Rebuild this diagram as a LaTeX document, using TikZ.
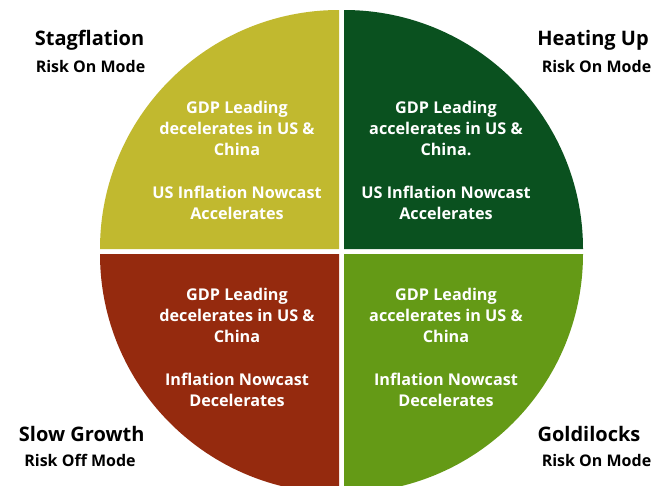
\documentclass[tikz,border=0pt]{standalone}
\usepackage{fontspec}
\setmainfont{Open Sans}
\usepackage{tikz}
\usetikzlibrary{positioning}

\definecolor{olive}{HTML}{C1B92F}
\definecolor{darkgreen}{HTML}{0A511F}
\definecolor{rust}{HTML}{952A0E}
\definecolor{leaf}{HTML}{649A16}

\begin{document}
\begin{tikzpicture}[
  x=1pt, y=-1pt,
  inner/.style={text=white, align=center, inner sep=0pt, font=\fontsize{16.2}{21}\selectfont\bfseries},
  title/.style={anchor=base, inner sep=0pt, font=\fontsize{20}{24}\selectfont\bfseries},
  mode/.style={anchor=base, inner sep=0pt, font=\fontsize{16}{19}\selectfont\bfseries}
]
  \clip (0,0) rectangle (653,485);
  \fill[white] (0,0) rectangle (653,485);

  % four quarters, split by a thin white cross
  \coordinate (tl) at (339,249);
  \coordinate (tr) at (344,249);
  \coordinate (bl) at (339,254);
  \coordinate (br) at (344,254);
  \fill[olive]     (tl) -- ++(-239,0) arc[start angle=180, end angle=270, radius=239] -- cycle;
  \fill[darkgreen] (tr) -- ++(0,-239) arc[start angle=270, end angle=360, radius=239] -- cycle;
  \fill[rust]      (bl) -- ++(0,239)  arc[start angle=90,  end angle=180, radius=239] -- cycle;
  \fill[leaf]      (br) -- ++(239,0)  arc[start angle=0,   end angle=90,  radius=239] -- cycle;

  \node[inner] (stagtext) at (237,160) {GDP Leading\\decelerates in US \&\\China\\[22pt]US Inflation Nowcast\\Accelerates};
  \node[inner] (heattext) at (446,160) {GDP Leading\\accelerates in US \&\\China.\\[22pt]US Inflation Nowcast\\Accelerates};
  \node[inner] (slowtext) at (237,347) {GDP Leading\\decelerates in US \&\\China\\[22pt]Inflation Nowcast\\Decelerates};
  \node[inner] (goldtext) at (446,347) {GDP Leading\\accelerates in US \&\\China\\[22pt]Inflation Nowcast\\Decelerates};

  % regime names and modes
  \node[title] (stag)     at (89.5,45.7)  {Stagflation};
  \node[mode]  (stagmode) at (90.5,72.3)  {Risk On Mode};
  \node[title] (heat)     at (593,45.7)   {Heating Up};
  \node[mode]  (heatmode) at (596.5,72.3) {Risk On Mode};
  \node[title] (slow)     at (81.7,441.5) {Slow Growth};
  \node[mode]  (slowmode) at (80,466.5)   {Risk Off Mode};
  \node[title] (gold)     at (589,441)    {Goldilocks};
  \node[mode]  (goldmode) at (596.5,466)  {Risk On Mode};
\end{tikzpicture}
\end{document}
